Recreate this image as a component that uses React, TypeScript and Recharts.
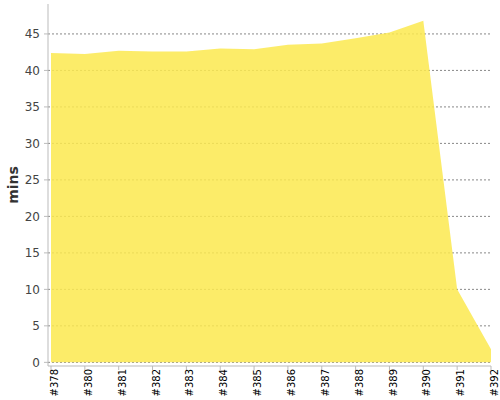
import React from 'react';
import { AreaChart, Area, XAxis, YAxis, CartesianGrid } from 'recharts';

// build numbers along the x axis (#379 is missing in the source)
const builds = ['#378', '#380', '#381', '#382', '#383', '#384', '#385', '#386', '#387', '#388', '#389', '#390', '#391', '#392'];
// build duration in minutes
const minutes = [42.4, 42.25, 42.7, 42.6, 42.6, 43.0, 42.9, 43.5, 43.7, 44.4, 45.2, 46.8, 10.0, 1.8];
const yTicks = [0, 5, 10, 15, 20, 25, 30, 35, 40, 45];

const chartData = builds.map((build, i) => ({ build, mins: minutes[i] }));

const font = 'DejaVu Sans, sans-serif';

const App: React.FC = () => {
  return (
    <div style={{ position: 'absolute', left: 0, top: 0, width: 500, height: 400, background: '#fff' }}>
      <AreaChart width={500} height={400} data={chartData} margin={{ top: 4, right: 9, left: 0, bottom: 0 }}>
        <CartesianGrid vertical={false} horizontalValues={yTicks} stroke="#888" strokeDasharray="2 2" />
        <XAxis
          dataKey="build"
          interval={0}
          angle={-90}
          textAnchor="end"
          height={34}
          tickSize={4}
          tickMargin={2}
          padding={{ left: 3, right: 0 }}
          stroke="#bbb"
          tick={{ fontSize: 10, fill: '#000', fontFamily: font, dy: -3 }}
        />
        <YAxis
          width={48}
          domain={[-0.5, 49.1]}
          ticks={yTicks}
          tickSize={4}
          tickMargin={4}
          stroke="#bbb"
          tick={{ fontSize: 12, fill: '#444', fontFamily: font }}
          label={{
            value: 'mins',
            angle: -90,
            position: 'insideLeft',
            offset: 13,
            style: { textAnchor: 'middle', fontSize: 14, fontWeight: 'bold', fill: '#333', fontFamily: font }
          }}
        />
        <Area
          type="linear"
          dataKey="mins"
          stroke="none"
          fill="#fce94f"
          fillOpacity={0.85}
          isAnimationActive={false}
        />
      </AreaChart>
    </div>
  );
};

export default App;
